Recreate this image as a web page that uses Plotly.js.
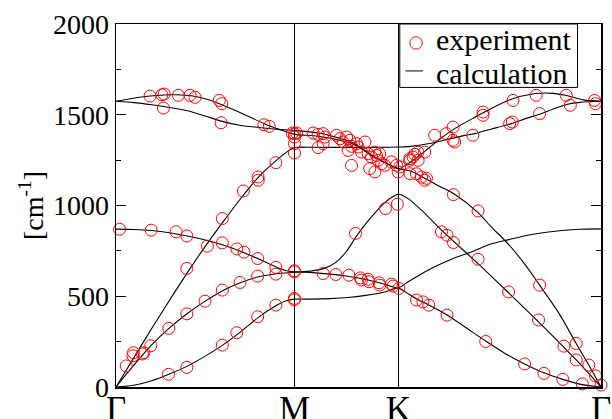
<!DOCTYPE html>
<html>
<head>
<meta charset="utf-8">
<script src="https://cdn.plot.ly/plotly-3.0.1.min.js"></script>
<style>
  html, body { margin: 0; padding: 0; background: #fff; }
  #chart { width: 612px; height: 419px; }
</style>
</head>
<body>
<div id="chart"></div>
<script>
// High-symmetry points along the path Γ–M–K–Γ (path coordinate, Γ–M = 1)
const pathTicks = [0, 1.0, 1.582, 2.718];
const pathLabels = ['Γ', 'M', 'K', 'Γ'];

// Calculated phonon branches (frequency in cm^-1 along the path)
const zaX = [0, 0.1, 0.2, 0.3, 0.4, 0.5, 0.6, 0.7, 0.8, 0.9, 0.95, 1.0, 1.1, 1.2, 1.3, 1.4, 1.5, 1.582, 1.62, 1.684, 1.753, 1.855, 1.95, 2.072, 2.18, 2.29, 2.398, 2.504, 2.613, 2.718];
const zaY = [0, 10, 35, 72, 115, 170, 232, 305, 385, 450, 474, 484, 484, 487, 493, 505, 522, 545, 525, 485, 452, 397, 335, 253, 185, 127, 78, 42, 13, 0];

const zoX = [0, 0.1, 0.2, 0.3, 0.4, 0.5, 0.6, 0.7, 0.8, 0.9, 0.95, 1.0, 1.1, 1.2, 1.3, 1.4, 1.5, 1.582, 1.63, 1.68, 1.786, 1.89, 1.99, 2.1, 2.2, 2.3, 2.4, 2.5, 2.6, 2.718];
const zoY = [870, 868, 862, 850, 832, 810, 782, 747, 705, 660, 642, 635, 630, 622, 610, 592, 568, 546, 575, 605, 662, 708, 744, 788, 812, 835, 851, 862, 869, 871];

const taX = [0, 0.1, 0.2, 0.3, 0.4, 0.5, 0.6, 0.7, 0.8, 0.9, 1.0, 1.1, 1.17, 1.23, 1.29, 1.34, 1.4, 1.45, 1.5, 1.55, 1.582, 1.637, 1.712, 1.824, 1.936, 2.029, 2.2, 2.368, 2.579, 2.718];
const taY = [0, 120, 232, 326, 405, 473, 532, 576, 607, 624, 632, 640, 655, 685, 745, 820, 900, 958, 1010, 1048, 1062, 1038, 974, 864, 763, 680, 519, 359, 149, 0];

const laX = [0, 0.1, 0.2, 0.3, 0.4, 0.5, 0.6, 0.7, 0.8, 0.9, 0.95, 1.0, 1.1, 1.3, 1.45, 1.582, 1.65, 1.749, 1.85, 1.95, 2.01, 2.1, 2.215, 2.3, 2.383, 2.45, 2.532, 2.6, 2.718];
const laY = [0, 162, 322, 478, 630, 775, 910, 1040, 1158, 1250, 1290, 1318, 1321, 1320, 1320, 1322, 1326, 1340, 1362, 1385, 1396, 1420, 1451, 1480, 1506, 1532, 1558, 1568, 1574];

const loX = [0, 0.08, 0.19, 0.27, 0.34, 0.43, 0.51, 0.58, 0.71, 0.83, 0.92, 1.0, 1.133, 1.32, 1.432, 1.51, 1.582, 1.65, 1.73, 1.8, 1.891, 2.029, 2.1, 2.196, 2.3, 2.374, 2.48, 2.579, 2.65, 2.718];
const loY = [1574, 1588, 1603, 1609, 1610, 1603, 1585, 1561, 1506, 1451, 1418, 1392, 1382, 1341, 1276, 1235, 1203, 1190, 1150, 1112, 1066, 961, 885, 790, 665, 561, 410, 240, 120, 0];

const toX = [0, 0.1, 0.2, 0.3, 0.4, 0.5, 0.6, 0.7, 0.8, 0.9, 1.0, 1.133, 1.2, 1.32, 1.4, 1.45, 1.52, 1.582, 1.65, 1.72, 1.8, 1.9, 2.0, 2.06, 2.2, 2.35, 2.45, 2.52, 2.62, 2.718];
const toY = [1574, 1567, 1555, 1540, 1522, 1493, 1462, 1441, 1430, 1420, 1414, 1399, 1385, 1350, 1300, 1267, 1230, 1203, 1240, 1290, 1355, 1425, 1480, 1512, 1580, 1617, 1618, 1607, 1582, 1574];

// Measured frequencies (cm^-1)
const expX = [
  // Γ–M, optical
  0.191, 0.257, 0.27, 0.35, 0.415, 0.443, 0.266, 0.579, 0.593, 0.589, 0.829, 0.859,
  1.0, 1.0, 1.0, 1.0, 0.988, 1.012,
  0.714, 0.796, 0.797, 0.896,
  0.02, 0.197, 0.337, 0.397, 0.596, 0.677, 0.717, 0.794, 0.896, 1.0,
  0.397, 0.512, 0.596,
  // Γ–M, acoustic
  0.057, 0.095, 0.098, 0.148, 0.156, 0.195, 0.296, 0.397, 0.499, 0.596, 0.695, 0.794, 0.896,
  0.294, 0.397, 0.596, 0.677, 0.794, 0.896, 1.0, 1.0,
  // M–K, optical
  1.105, 1.133, 1.161, 1.171, 1.133, 1.161, 1.236, 1.255, 1.273, 1.292, 1.311, 1.32, 1.348, 1.301,
  1.32, 1.357, 1.376, 1.395, 1.413, 1.422, 1.432, 1.451, 1.46, 1.469, 1.478, 1.488, 1.451, 1.506,
  1.544, 1.572, 1.59, 1.581,
  // K–Γ, optical
  1.647, 1.665, 1.674, 1.692, 1.73, 1.786, 1.851, 1.889, 1.889, 1.898, 2.0, 2.057, 2.057, 2.206,
  2.221, 2.225, 2.355, 2.374, 2.523, 2.546, 2.682, 2.687, 1.646, 1.693,
  1.647, 1.684, 1.712,
  // K–Γ, LA / TA
  1.73, 1.74, 1.891, 2.029, 2.374, 2.579, 2.65, 2.687, 2.718,
  1.824, 1.855, 1.891, 2.029, 2.2, 2.368, 2.51, 2.579,
  // M–K, acoustic / ZO
  1.0, 1.161, 1.232, 1.305, 1.37, 1.376, 1.413, 1.418, 1.475, 1.478, 1.544, 1.553, 1.585,
  1.342, 1.51, 1.577,
  // K–Γ, ZA
  1.684, 1.72, 1.753, 1.855, 2.072, 2.29, 2.398, 2.504, 2.613
];
const expY = [
  1603, 1610, 1614, 1607, 1607, 1596, 1537, 1579, 1561, 1456, 1445, 1436,
  1396, 1377, 1341, 1289, 1399, 1399,
  1080, 1157, 1139, 1236,
  869, 864, 855, 832, 794, 761, 743, 708, 659, 634,
  653, 776, 928,
  116, 172, 189, 182, 189, 227, 323, 403, 473, 534, 576, 611, 622,
  70, 108, 231, 299, 387, 451, 488, 480,
  1399, 1392, 1396, 1377, 1319, 1341, 1387, 1368, 1350, 1377, 1359, 1326, 1341, 1304,
  1221, 1322, 1294, 1350, 1285, 1203, 1267, 1294, 1276, 1249, 1285, 1230, 1185, 1221,
  1240, 1221, 1212, 1185,
  1258, 1267, 1282, 1294, 1294, 1387, 1396, 1432, 1359, 1350, 1387, 1515, 1497, 1451,
  1460, 1579, 1607, 1506, 1607, 1552, 1579, 1561, 1249, 1249,
  1175, 1175, 1157,
  1139, 1150, 1060, 970, 561, 240, 121, 61, 11,
  855, 836, 796, 704, 524, 369, 225, 149,
  640, 625, 620, 616, 601, 589, 594, 580, 574, 561, 567, 556, 543,
  846, 983, 1007,
  479, 469, 451, 396, 251, 127, 75, 42, 17
];

const branches = [
  [zaX, zaY], [zoX, zoY], [taX, taY], [laX, laY], [loX, loY], [toX, toY]
];

const serif = 'Liberation Serif, Times New Roman, serif';

const traces = branches.map(([bx, by]) => ({
  x: bx, y: by,
  type: 'scatter', mode: 'lines',
  line: { color: '#000', width: 1.1, shape: 'spline', smoothing: 0.8 },
  showlegend: false, hoverinfo: 'skip'
}));

traces.push({
  x: expX, y: expY,
  type: 'scatter', mode: 'markers',
  cliponaxis: false,
  marker: { symbol: 'circle-open', size: 12, color: '#ff0000', line: { width: 1, color: '#ff0000' } },
  showlegend: false, hoverinfo: 'skip'
});

// paper-coordinate helpers for the key box
const L = 115.8, R = 601.5, T = 23.5, B = 387;
const px = v => (v - L) / (R - L);
const py = v => (B - v) / (B - T);

const layout = {
  width: 612, height: 419,
  margin: { l: L, r: 612 - R, t: T, b: 419 - B, pad: 0 },
  paper_bgcolor: '#fff', plot_bgcolor: '#fff',
  font: { family: serif, color: '#000' },
  showlegend: false,
  xaxis: {
    range: [0, 2.718],
    tickmode: 'array', tickvals: pathTicks, ticktext: pathLabels,
    ticks: 'inside', ticklen: 8, tickwidth: 1, tickcolor: '#000',
    ticklabelstandoff: -10,
    showgrid: true, gridcolor: '#000', gridwidth: 1,
    showline: true, linecolor: '#000', linewidth: 1.5, mirror: 'ticks',
    zeroline: false,
    tickfont: { family: serif, size: 35, color: '#000' },
    automargin: false
  },
  yaxis: {
    range: [0, 2000],
    tickmode: 'linear', tick0: 0, dtick: 500,
    ticks: 'inside', ticklen: 10, tickwidth: 1, tickcolor: '#000',
    minor: { dtick: 250, ticks: 'inside', ticklen: 5, tickwidth: 1, tickcolor: '#000', showgrid: false },
    showgrid: false, zeroline: false,
    showline: true, linecolor: '#000', linewidth: 1.5, mirror: 'ticks',
    tickfont: { family: serif, size: 28, color: '#000' },
    title: { text: '[cm<sup>-1</sup>]', font: { family: serif, size: 28, color: '#000' }, standoff: 1 },
    automargin: false
  },
  shapes: [
    { type: 'rect', xref: 'paper', yref: 'paper', x0: px(400), x1: px(578), y0: py(87), y1: py(T),
      line: { color: '#000', width: 1 }, fillcolor: '#fff', layer: 'above' },
    { type: 'circle', xref: 'paper', yref: 'paper', x0: px(410.1), x1: px(422.5), y0: py(48.7), y1: py(36.3),
      line: { color: '#ff0000', width: 1 }, layer: 'above' },
    { type: 'line', xref: 'paper', yref: 'paper', x0: px(405.7), x1: px(423.3), y0: py(70.5), y1: py(70.5),
      line: { color: '#000', width: 1 }, layer: 'above' }
  ],
  annotations: [
    { xref: 'paper', yref: 'paper', x: px(434.5), y: py(39.5), xanchor: 'left', yanchor: 'middle',
      text: 'experiment', showarrow: false, font: { family: serif, size: 30, color: '#000' } },
    { xref: 'paper', yref: 'paper', x: px(434.5), y: py(73), xanchor: 'left', yanchor: 'middle',
      text: 'calculation', showarrow: false, font: { family: serif, size: 30, color: '#000' } }
  ]
};

Plotly.newPlot('chart', traces, layout, { staticPlot: true, displayModeBar: false });
</script>
</body>
</html>
